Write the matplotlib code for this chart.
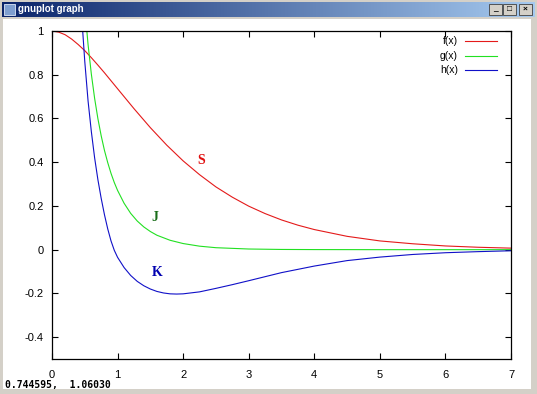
import numpy as np
import matplotlib.pyplot as plt
from matplotlib.patches import Rectangle
from matplotlib.colors import LinearSegmentedColormap

# values
x_f = [0, 0.1, 0.2, 0.3, 0.4, 0.5, 0.6, 0.7, 0.8, 1.0, 1.25, 1.5, 1.75, 2.0,
       2.25, 2.5, 2.75, 3.0, 3.25, 3.5, 3.75, 4.0, 4.5, 5.0, 5.5, 6.0, 6.5, 7.0]
f_vals = [1.0, 0.995, 0.983, 0.963, 0.938, 0.910, 0.878, 0.844, 0.809, 0.736,
          0.645, 0.558, 0.478, 0.406, 0.343, 0.287, 0.240, 0.199, 0.165,
          0.136, 0.112, 0.092, 0.061, 0.040, 0.027, 0.017, 0.011, 0.007]

x_g = [0.45, 0.5, 0.55, 0.6, 0.65, 0.7, 0.75, 0.8, 0.85, 0.9, 0.95, 1.0, 1.1,
       1.2, 1.3, 1.4, 1.5, 1.6, 1.8, 2.0, 2.25, 2.5, 3.0, 3.5, 4.0, 5.0, 6.0, 7.0]
g_vals = [1.31, 1.104, 0.938, 0.803, 0.692, 0.599, 0.521, 0.454, 0.398, 0.349,
          0.307, 0.271, 0.212, 0.166, 0.131, 0.104, 0.083, 0.066, 0.043, 0.028,
          0.016, 0.009, 0.003, 0.001, 0.0004, 0.0, 0.0, 0.0]

x_h = [0.4, 0.45, 0.5, 0.55, 0.6, 0.65, 0.7, 0.75, 0.8, 0.85, 0.9, 0.95, 1.0,
       1.1, 1.2, 1.3, 1.4, 1.5, 1.6, 1.7, 1.8, 1.9, 2.0, 2.25, 2.5, 2.75, 3.0,
       3.5, 4.0, 4.5, 5.0, 5.5, 6.0, 6.5, 7.0]
h_vals = [1.35, 1.08, 0.86, 0.68, 0.54, 0.42, 0.32, 0.235, 0.16, 0.095, 0.04,
          -0.003, -0.035, -0.082, -0.118, -0.145, -0.165, -0.180, -0.191,
          -0.198, -0.202, -0.203, -0.202, -0.193, -0.177, -0.160, -0.142,
          -0.105, -0.075, -0.050, -0.034, -0.022, -0.014, -0.009, -0.005]

names = ['f(x)', 'g(x)', 'h(x)']
xticks = [0, 1, 2, 3, 4, 5, 6, 7]
yticks = [-0.4, -0.2, 0, 0.2, 0.4, 0.6, 0.8, 1]
ytick_labels = ['-0.4', '-0.2', '0', '0.2', '0.4', '0.6', '0.8', '1']
marks = ['S', 'J', 'K']
mark_x = [2.27, 1.57, 1.60]
mark_y = [0.408, 0.147, -0.105]

line_colors = ['#e41a1a', '#22e022', '#1010c8']
mark_colors = ['#e01010', '#1a6e1a', '#0000b0']

plt.rcParams['font.family'] = ['Liberation Sans', 'DejaVu Sans']

W, H = 537, 394
fig = plt.figure(figsize=(W / 100, H / 100), dpi=100, facecolor='#d4d0c8')


def px(x0, y0, w, h):
    return [x0 / W, 1 - (y0 + h) / H, w / W, h / H]


# white client area of the window
fig.patches.append(Rectangle((3 / W, 1 - 389 / H), 528 / W, 370 / H,
                             transform=fig.transFigure, facecolor='white',
                             edgecolor='none', zorder=-5))

# title bar
tb = fig.add_axes(px(2, 2, 533, 15))
grad = np.linspace(0, 1, 256).reshape(1, -1)
cmap = LinearSegmentedColormap.from_list('tb', ['#0a246a', '#a6caf0'])
tb.imshow(grad, aspect='auto', cmap=cmap, extent=[0, 533, 0, 15])
tb.set_xlim(0, 533)
tb.set_ylim(0, 15)
tb.axis('off')
tb.add_patch(Rectangle((2, 2), 11, 11, facecolor='#7f9fd0', edgecolor='#dfe8f8', lw=0.6))
tb.text(16, 7.5, 'gnuplot graph', color='white', fontsize=7, weight='bold', va='center')
for bx, sym in zip([487, 501, 517], ['_', '□', '×']):
    tb.add_patch(Rectangle((bx, 2), 13, 11, facecolor='#d4d0c8', edgecolor='#404040', lw=0.6))
    tb.text(bx + 6.5, 7.5, sym, fontsize=6, ha='center', va='center', weight='bold')

# main plot
ax = fig.add_axes(px(52, 31, 459, 328))
for xs, ys, c, n in zip([x_f, x_g, x_h], [f_vals, g_vals, h_vals], line_colors, names):
    ax.plot(xs, ys, color=c, lw=0.8, label=n)

ax.set_xlim(0, 7)
ax.set_ylim(-0.5, 1)
ax.set_xticks(xticks)
ax.set_yticks(yticks)
ax.set_yticklabels(ytick_labels)
ax.tick_params(direction='in', length=4, width=0.8, top=True, right=True,
               labelsize=8, color='black')
ax.tick_params(axis='x', pad=8)
ax.tick_params(axis='y', pad=6)
for s in ax.spines.values():
    s.set_linewidth(0.9)

for t, xx, yy, c in zip(marks, mark_x, mark_y, mark_colors):
    ax.text(xx, yy, t, color=c, fontsize=10, weight='bold',
            family='Liberation Serif', ha='center', va='center')

# key in the top right corner
key_y = [0.970, 0.925, 0.881]
for n, c, ky in zip(names, line_colors, key_y):
    ax.text(0.884, ky, n, transform=ax.transAxes, fontsize=7.5, ha='right', va='center')
    ax.plot([0.900, 0.969], [ky, ky], transform=ax.transAxes, color=c, lw=0.8)

# mouse coordinates readout
fig.text(5 / W, 1 - 385 / H, '0.744595,  1.06030', fontsize=7,
         family='DejaVu Sans Mono', weight='bold', va='center')

fig.savefig('out.png', dpi=100, facecolor=fig.get_facecolor())
